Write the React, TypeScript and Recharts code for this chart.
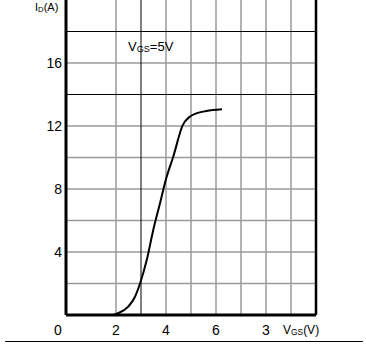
import { LineChart, Line, XAxis, YAxis, ReferenceLine } from "recharts";

// transfer curve
const vgs = [1.88, 2.08, 2.49, 2.76, 2.96, 3.23, 3.49, 3.76, 3.99, 4.29, 4.67, 4.95, 5.21, 5.61, 6.24];
const idA = [0, 0.11, 0.53, 1.16, 2.0, 3.49, 5.4, 7.09, 8.57, 10.05, 12.06, 12.59, 12.8, 12.95, 13.06];

const xTicks = [0, 2, 4, 6, 8];
const xTickLabels = ["0", "2", "4", "6", "3"];
const yTicks = [4, 8, 12, 16];

const grayX = [2, 4, 5, 6, 7, 8, 9];
const darkX = [3];
const grayY = [2, 4, 6, 8, 10, 12, 16];
const darkY = [14, 18];

const data = vgs.map((v, i) => ({ v, id: idA[i] }));

const FONT = "'Liberation Sans Narrow', 'Liberation Sans', Arial, sans-serif";

const XTick = (props: any) => {
  const { x, payload, index } = props;
  return (
    <text x={x + (index === 0 ? -8 : 0)} y={335} textAnchor="middle" fontSize={14} fontFamily={FONT} fill="#000">
      {xTickLabels[xTicks.indexOf(payload.value)]}
    </text>
  );
};

const YTick = (props: any) => {
  const { y, payload } = props;
  return (
    <text x={62} y={y + 5} textAnchor="end" fontSize={14} fontFamily={FONT} fill="#000">
      {payload.value}
    </text>
  );
};

const sub = { fontSize: "0.7em", verticalAlign: "-0.15em" } as const;

export default function App() {
  return (
    <div style={{ position: "absolute", left: 0, top: 0, width: 366, height: 358, background: "#fff", fontFamily: FONT }}>
      <LineChart width={366} height={358} data={data} margin={{ top: 0, right: 50, bottom: 13, left: 26 }}>
        {grayX.map((g) => (
          <ReferenceLine key={"gx" + g} x={g} stroke="#9a9a9a" strokeWidth={1.5} />
        ))}
        {grayY.map((g) => (
          <ReferenceLine key={"gy" + g} y={g} stroke="#9a9a9a" strokeWidth={1.5} />
        ))}
        {darkX.map((g) => (
          <ReferenceLine key={"dx" + g} x={g} stroke="#000" strokeWidth={1} />
        ))}
        {darkY.map((g) => (
          <ReferenceLine key={"dy" + g} y={g} stroke="#000" strokeWidth={1} />
        ))}
        <ReferenceLine x={10} stroke="#000" strokeWidth={2.5} />
        <XAxis
          type="number"
          dataKey="v"
          domain={[0, 10]}
          ticks={xTicks}
          height={30}
          tickLine={false}
          axisLine={{ stroke: "#000", strokeWidth: 3 }}
          tick={<XTick />}
          interval={0}
        />
        <YAxis
          type="number"
          domain={[0, 20]}
          ticks={yTicks}
          width={40}
          tickLine={false}
          axisLine={{ stroke: "#000", strokeWidth: 3 }}
          tick={<YTick />}
          interval={0}
        />
        <Line
          type="monotone"
          dataKey="id"
          stroke="#000"
          strokeWidth={2}
          dot={false}
          isAnimationActive={false}
        />
      </LineChart>
      <div style={{ position: "absolute", left: 35, top: 1, fontSize: 11, lineHeight: "12px", whiteSpace: "nowrap" }}>
        I<span style={sub}>D</span>(A)
      </div>
      <div style={{ position: "absolute", left: 128, top: 40, fontSize: 13, lineHeight: "14px", whiteSpace: "nowrap" }}>
        V<span style={sub}>GS</span>=5V
      </div>
      <div style={{ position: "absolute", left: 283, top: 324, fontSize: 12, lineHeight: "13px", whiteSpace: "nowrap" }}>
        V<span style={sub}>GS</span>(V)
      </div>
      <div style={{ position: "absolute", left: 5, top: 341, width: 358, height: 1, background: "#000" }} />
    </div>
  );
}
